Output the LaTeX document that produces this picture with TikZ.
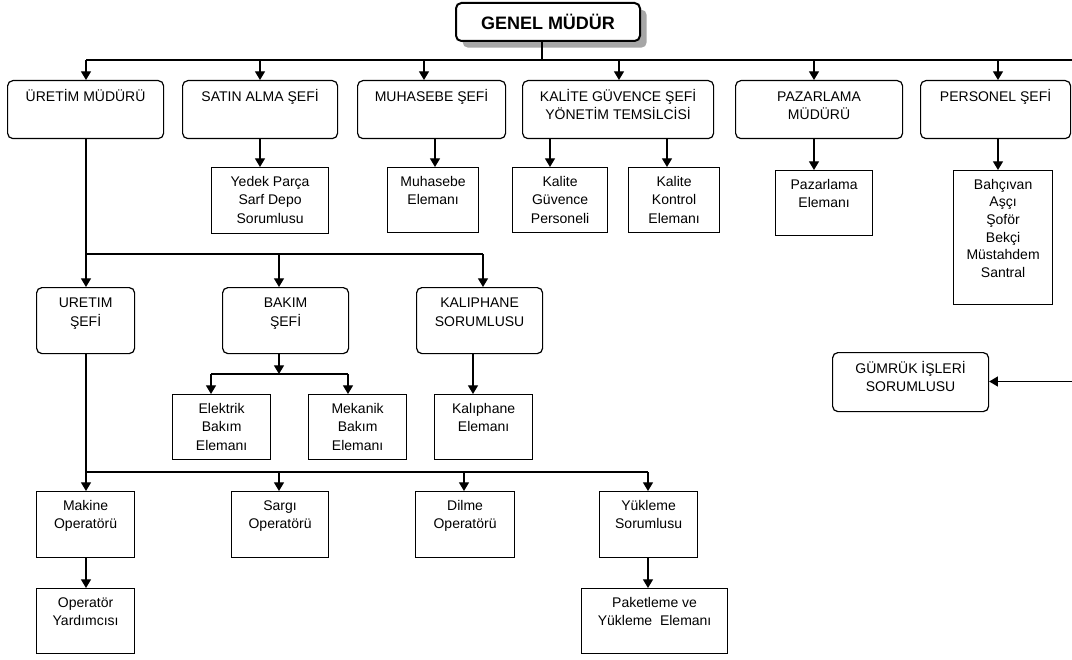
\documentclass[tikz,border=0pt]{standalone}
\usepackage{fontspec}
\setmainfont{Liberation Sans}
\usetikzlibrary{arrows.meta,shadows}

% #1 name, #2 style, #3 x1, #4 y1, #5 x2, #6 y2 (px), #7 first baseline, #8 text
\newcommand\orgbox[8]{%
  \pgfmathsetlengthmacro\obw{(#5-#3)*0.75pt}%
  \pgfmathsetlengthmacro\obh{(#6-#4)*0.75pt}%
  \node[#2, anchor=north west] (#1) at (#3,#4)
    {\parbox[t][\obh][t]{\obw}{\centering\rule{0pt}{#7}#8\par}};%
}

\begin{document}
\begin{tikzpicture}[x=0.75pt,y=-0.75pt,
  box/.style={draw, line width=0.9pt, inner sep=0pt, fill=white,
    font=\fontsize{10.5}{14}\selectfont},
  rbox/.style={box, rounded corners=4pt},
  tightbox/.style={box, font=\fontsize{10.5}{13.2}\selectfont},
  conn/.style={line width=0.9pt},
  arr/.style={conn, -{Triangle[width=7.5pt,length=6.5pt]}},
  topbox/.style={draw, line width=1.5pt, rounded corners=4pt, fill=white,
    inner sep=0pt, drop shadow={shadow xshift=5pt, shadow yshift=-5pt,
    fill=gray!70, opacity=1},
    font=\bfseries\fontsize{13.5}{16}\selectfont}]
\useasboundingbox (0,0) rectangle (1072,660);

% general manager
\node[topbox, minimum width=138pt, minimum height=28.5pt, anchor=north west]
  (gen) at (455,2) {GENEL MÜDÜR};

% first level
\orgbox{um}{rbox}{7}{80}{163}{138}{15.5pt}{ÜRETİM MÜDÜRÜ}
\orgbox{sa}{rbox}{182}{80}{337}{138}{15.5pt}{SATIN ALMA ŞEFİ}
\orgbox{mu}{rbox}{357}{80}{505}{138}{15.5pt}{MUHASEBE ŞEFİ}
\orgbox{kg}{rbox}{522}{80}{713}{138}{15.5pt}{KALİTE GÜVENCE ŞEFİ\\YÖNETİM TEMSİLCİSİ}
\orgbox{pz}{rbox}{735}{80}{902}{138}{15.5pt}{PAZARLAMA\\MÜDÜRÜ}
\orgbox{ps}{rbox}{920}{80}{1070}{138}{15.5pt}{PERSONEL ŞEFİ}

% staff under the first level
\orgbox{yd}{box}{211}{167}{328}{233}{14pt}{Yedek Parça\\Sarf Depo\\Sorumlusu}
\orgbox{me}{box}{387}{167}{478}{232}{14pt}{Muhasebe\\Elemanı}
\orgbox{kp}{box}{512}{167}{607}{232}{14pt}{Kalite\\Güvence\\Personeli}
\orgbox{kk}{box}{628}{167}{719}{232}{14pt}{Kalite\\Kontrol\\Elemanı}
\orgbox{pe}{box}{775}{170}{872}{235}{14pt}{Pazarlama\\Elemanı}
\orgbox{bh}{tightbox}{953}{170}{1052}{304}{14pt}{Bahçıvan\\Aşçı\\Şoför\\Bekçi\\Müstahdem\\Santral}

% production chiefs
\orgbox{us}{rbox}{36}{287}{134}{353}{15pt}{URETIM\\ŞEFİ}
\orgbox{bk}{rbox}{222}{287}{348}{353}{15pt}{BAKIM\\ŞEFİ}
\orgbox{kl}{rbox}{416}{287}{542}{353}{15pt}{KALIPHANE\\SORUMLUSU}
\orgbox{gr}{rbox}{832}{352}{988}{411}{15.5pt}{GÜMRÜK İŞLERİ\\SORUMLUSU}

\orgbox{el}{box}{172}{394}{270}{459}{14pt}{Elektrik\\Bakım\\Elemanı}
\orgbox{mk}{box}{308}{394}{406}{459}{14pt}{Mekanik\\Bakım\\Elemanı}
\orgbox{ke}{box}{434}{394}{532}{459}{14pt}{Kalıphane\\Elemanı}

% operators
\orgbox{mo}{box}{36}{491}{134}{557}{14pt}{Makine\\Operatörü}
\orgbox{so}{box}{231}{491}{328}{557}{14pt}{Sargı\\Operatörü}
\orgbox{do}{box}{415}{491}{514}{557}{14pt}{Dilme\\Operatörü}
\orgbox{ys}{box}{599}{491}{697}{557}{14pt}{Yükleme\\Sorumlusu}
\orgbox{oy}{box}{36}{588}{134}{653}{14pt}{Operatör\\Yardımcısı}
\orgbox{pk}{box}{581}{588}{727}{653}{14pt}{Paketleme ve\\Yükleme~ Elemanı}

% top bus
\coordinate (g0) at (542,60);
\coordinate (tL) at (86,60);
\coordinate (tR) at (1074,60);
\coordinate (tRd) at (1074,381.5);
\draw[conn] (g0 |- gen.south) -- (g0);
\draw[conn] (tL) -- (tR) -- (tRd);
\draw[arr] (tRd) -- (tRd -| gr.east);
\foreach \x/\n in {86/um,260/sa,424/mu,619/kg,814/pz,998/ps}{
  \coordinate (j\n) at (\x,60);
  \draw[arr] (j\n) -- (j\n |- \n.north);
}

% single parent-child links
\foreach \x/\p/\c in {260/sa/yd,435/mu/me,550/kg/kp,667/kg/kk,814/pz/pe,
    998/ps/bh,473/kl/ke,86/mo/oy,648/ys/pk}{
  \coordinate (d\c) at (\x,0);
  \draw[arr] (d\c |- \p.south) -- (d\c |- \c.north);
}

% production manager bus
\coordinate (b2L) at (86,254);
\coordinate (b2M) at (279,254);
\coordinate (b2R) at (483,254);
\draw[conn] (b2L |- um.south) -- (b2L) -- (b2R);
\draw[arr] (b2L) -- (b2L |- us.north);
\draw[arr] (b2M) -- (b2M |- bk.north);
\draw[arr] (b2R) -- (b2R |- kl.north);

% maintenance bus
\coordinate (b3) at (279,374);
\coordinate (b3L) at (211,374);
\coordinate (b3R) at (348,374);
\draw[arr] (b3 |- bk.south) -- (b3);
\draw[conn] (b3L) -- (b3R);
\draw[arr] (b3L) -- (b3L |- el.north);
\draw[arr] (b3R) -- (b3R |- mk.north);

% production chief bus
\coordinate (b4L) at (86,472);
\coordinate (b4R) at (648,472);
\draw[conn] (b4L |- us.south) -- (b4L) -- (b4R);
\foreach \x/\c in {86/mo,279/so,464/do,648/ys}{
  \coordinate (e\c) at (\x,472);
  \draw[arr] (e\c) -- (e\c |- \c.north);
}
\end{tikzpicture}
\end{document}
